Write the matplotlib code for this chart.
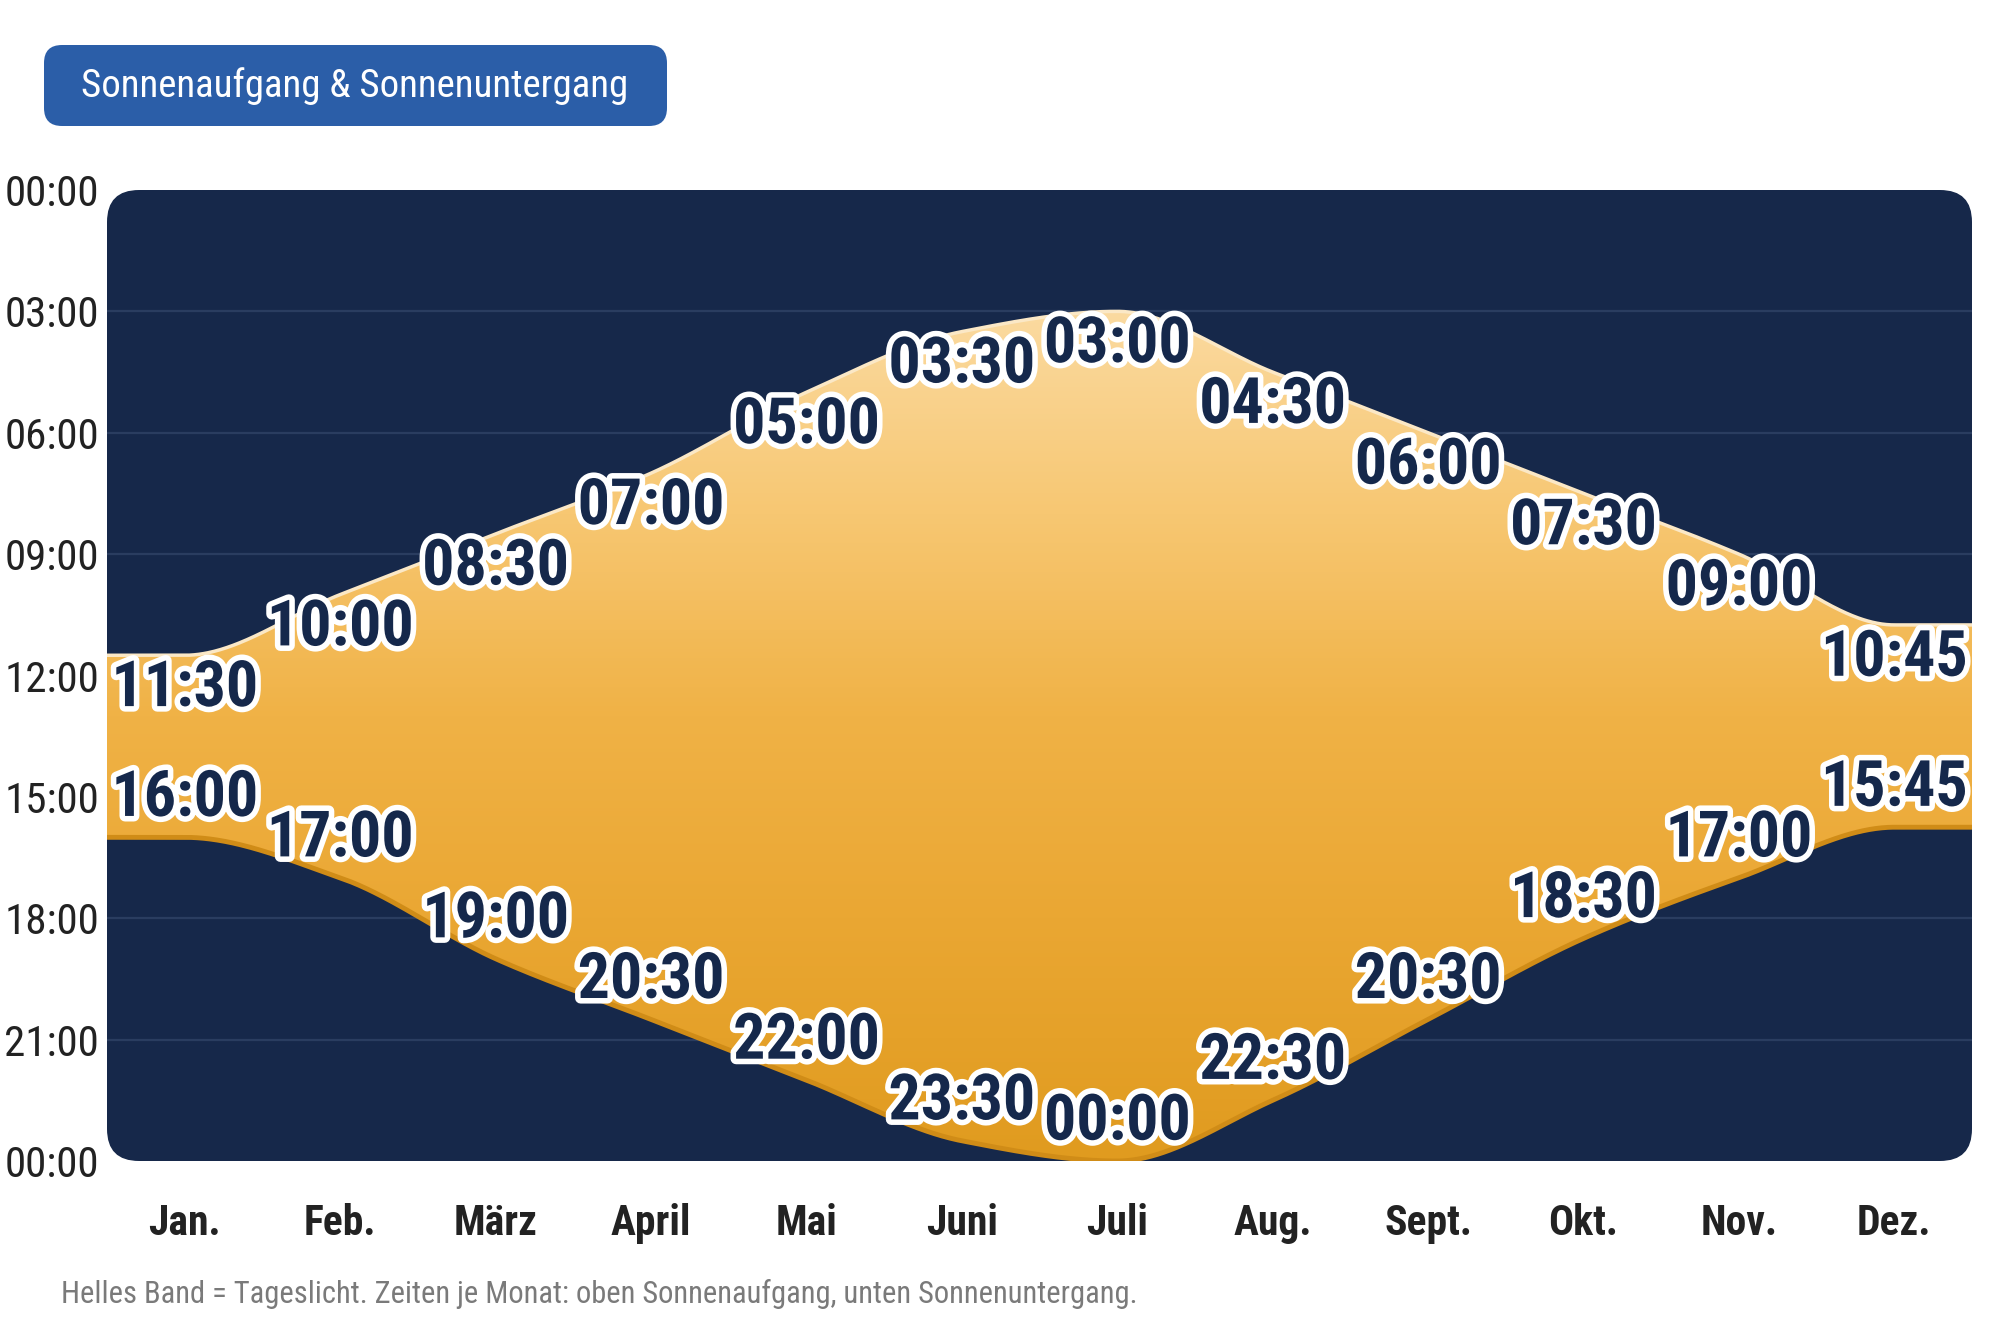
import numpy as np
import matplotlib
matplotlib.use("Agg")
import matplotlib.pyplot as plt
from matplotlib import font_manager as fm
from matplotlib.patches import FancyBboxPatch
from matplotlib.colors import LinearSegmentedColormap
import matplotlib.patheffects as pe

# ---------------- data ----------------
months = ["Jan.", "Feb.", "März", "April", "Mai", "Juni", "Juli",
          "Aug.", "Sept.", "Okt.", "Nov.", "Dez."]
sunrise = [11.5, 10.0, 8.5, 7.0, 5.0, 3.5, 3.0, 4.5, 6.0, 7.5, 9.0, 10.75]
sunset = [16.0, 17.0, 19.0, 20.5, 22.0, 23.5, 24.0, 22.5, 20.5, 18.5, 17.0, 15.75]
ytick_vals = [0, 3, 6, 9, 12, 15, 18, 21, 24]
ytick_labels = ["00:00", "03:00", "06:00", "09:00", "12:00", "15:00", "18:00", "21:00", "00:00"]
title = "Sonnenaufgang & Sonnenuntergang"
footnote = "Helles Band = Tageslicht. Zeiten je Monat: oben Sonnenaufgang, unten Sonnenuntergang."

# ---------------- fonts ----------------
names = {f.name for f in fm.fontManager.ttflist}
if "Roboto Condensed" in names:
    FONT = "Roboto Condensed"
elif "Liberation Sans Narrow" in names:
    FONT = "Liberation Sans Narrow"
else:
    FONT = "DejaVu Sans"
plt.rcParams["font.family"] = [FONT, "DejaVu Sans"]

NAVY = "#16284A"
GRID = "#2A3D60"


def fmt(h):
    hh = int(h) % 24
    mm = int(round((h - int(h)) * 60))
    return f"{hh:02d}:{mm:02d}"


def pchip(x, y, xs):
    x = np.asarray(x, float)
    y = np.asarray(y, float)
    h = np.diff(x)
    d = np.diff(y) / h
    n = len(x)
    m = np.zeros(n)
    for k in range(1, n - 1):
        if d[k - 1] * d[k] > 0:
            w1 = 2 * h[k] + h[k - 1]
            w2 = h[k] + 2 * h[k - 1]
            m[k] = (w1 + w2) / (w1 / d[k - 1] + w2 / d[k])
        else:
            m[k] = 0.0
    out = np.empty_like(xs)
    for i, xv in enumerate(xs):
        if xv <= x[0]:
            out[i] = y[0]
            continue
        if xv >= x[-1]:
            out[i] = y[-1]
            continue
        k = np.searchsorted(x, xv) - 1
        t = (xv - x[k]) / h[k]
        h00 = 2 * t**3 - 3 * t**2 + 1
        h10 = t**3 - 2 * t**2 + t
        h01 = -2 * t**3 + 3 * t**2
        h11 = t**3 - t**2
        out[i] = h00 * y[k] + h10 * h[k] * m[k] + h01 * y[k + 1] + h11 * h[k] * m[k + 1]
    return out


W, H = 2000, 1333
fig = plt.figure(figsize=(W / 100, H / 100), dpi=100)
fig.patch.set_facecolor("white")

ax_l, ax_r, ax_t, ax_b = 107 / W, 1972 / W, 190 / H, 1161 / H
ax = fig.add_axes([ax_l, 1 - ax_b, ax_r - ax_l, ax_b - ax_t])
ax.patch.set_visible(False)
ax.set_zorder(2)

# rounded dark background
bg = FancyBboxPatch((ax_l, 1 - ax_b), ax_r - ax_l, ax_b - ax_t,
                    boxstyle="round,pad=0,rounding_size=0.016",
                    mutation_aspect=W / H, transform=fig.transFigure,
                    facecolor=NAVY, edgecolor="none", zorder=0)
fig.patches.append(bg)

x = np.arange(len(months))
ax.set_xlim(-0.5, len(months) - 0.5)
ax.set_ylim(24, 0)

# grid lines
for v in ytick_vals[1:-1]:
    ax.axhline(v, color=GRID, lw=1.6, zorder=1)

xs = np.linspace(-0.5, len(months) - 0.5, 1200)
up_s = pchip(x, sunrise, xs)
dn_s = pchip(x, sunset, xs)

band = ax.fill_between(xs, up_s, dn_s, facecolor="none", edgecolor="none", zorder=2)
cmap = LinearSegmentedColormap.from_list(
    "sun", [(0.0, "#fde6b8"), (3 / 24, "#fbdaa0"), (8 / 24, "#f7c772"),
            (13 / 24, "#f0b246"), (18 / 24, "#eaa733"), (1.0, "#e09b1f")])
grad = np.linspace(0, 1, 512).reshape(-1, 1)
im = ax.imshow(grad, extent=(-0.5, len(months) - 0.5, 24, 0), origin="upper",
               aspect="auto", cmap=cmap, interpolation="bicubic", zorder=2)
im.set_clip_path(band.get_paths()[0], transform=ax.transData)

ax.plot(xs, up_s, color="#fbe8c6", lw=2.5, zorder=3, solid_capstyle="butt")
ax.plot(xs, dn_s, color="#d08c17", lw=3.5, zorder=3, solid_capstyle="butt")

# value labels
stroke = [pe.withStroke(linewidth=8, foreground="white")]
for i in range(len(months)):
    ax.annotate(fmt(sunrise[i]), (x[i], sunrise[i]), xytext=(0, -24),
                textcoords="offset points", ha="center", va="center",
                fontsize=46, fontweight="bold", color="#15284B",
                path_effects=stroke, zorder=5)
    ax.annotate(fmt(sunset[i]), (x[i], sunset[i]), xytext=(0, 28),
                textcoords="offset points", ha="center", va="center",
                fontsize=46, fontweight="bold", color="#15284B",
                path_effects=stroke, zorder=5)

# axes ticks
for s in ax.spines.values():
    s.set_visible(False)
ax.set_yticks(ytick_vals, ytick_labels)
ax.set_xticks(x, months)
ax.tick_params(axis="y", length=0, pad=74, labelsize=31, labelcolor="#222222")
ax.tick_params(axis="x", length=0, pad=30, labelsize=30, labelcolor="#222222")
for lab in ax.get_yticklabels():
    lab.set_horizontalalignment("left")
for lab in ax.get_xticklabels():
    lab.set_fontweight("bold")

# title box
tb = FancyBboxPatch((44 / W, 1 - 126 / H), (667 - 44) / W, (126 - 45) / H,
                    boxstyle="round,pad=0,rounding_size=0.009",
                    mutation_aspect=W / H, transform=fig.transFigure,
                    facecolor="#2B5EA8", edgecolor="none", zorder=1)
fig.patches.append(tb)
fig.text(355 / W, 1 - 86 / H, title, ha="center", va="center",
         fontsize=28, color="white", zorder=2)

# footnote
fig.text(61 / W, 1 - 1294 / H, footnote, ha="left", va="center",
         fontsize=22, color="#7a7a7a")

fig.savefig("out.png", dpi=100, facecolor="white")
